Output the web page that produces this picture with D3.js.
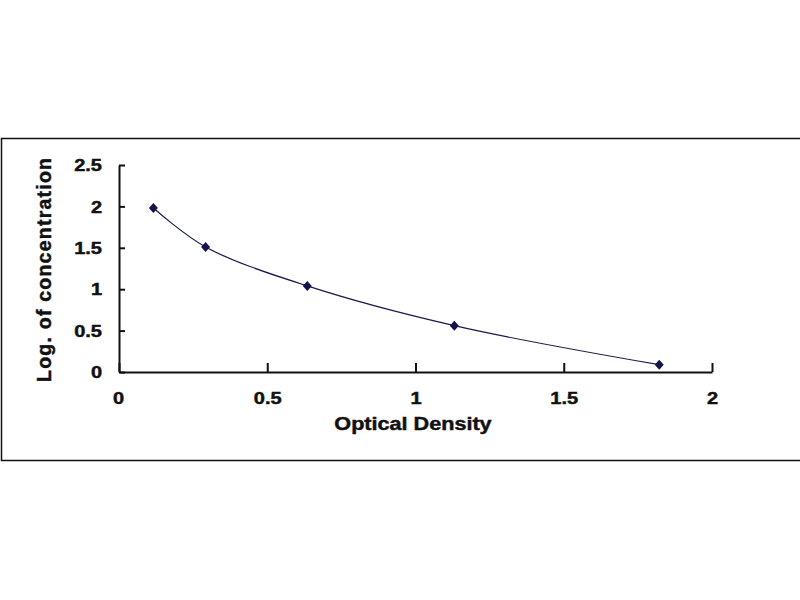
<!DOCTYPE html>
<html>
<head>
<meta charset="utf-8">
<script src="https://cdn.jsdelivr.net/npm/d3@7"></script>
<style>
  body { margin: 0; background: #fff; }
  text { font-family: "Liberation Sans", Arial, sans-serif; font-weight: bold; fill: #111; stroke: #111; stroke-width: 0.45px; }
</style>
</head>
<body>
<div id="canvas"></div>
<script>
// data
const od = [0.116, 0.292, 0.635, 1.131, 1.822];
const logConc = [1.98, 1.51, 1.04, 0.56, 0.088];
const xTicks = [0, 0.5, 1, 1.5, 2];
const yTicks = [0, 0.5, 1, 1.5, 2, 2.5];

const width = 800;
const height = 600;
const svg = d3.select("#canvas")
    .append("svg")
    .attr("width", width)
    .attr("height", height);

// the original picture is stretched sideways, so widen glyphs a bit
function stretch(sel, k) {
    sel.each(function() {
        const w = this.getComputedTextLength();
        d3.select(this)
            .attr("textLength", w * k)
            .attr("lengthAdjust", "spacingAndGlyphs");
    });
}

// outer chart frame
svg.append("rect")
    .attr("x", 1.5).attr("y", 138.5)
    .attr("width", 800).attr("height", 322)
    .attr("fill", "none")
    .attr("stroke", "#111")
    .attr("stroke-width", 1.5);

const x = d3.scaleLinear().domain([0, 2]).range([119, 712]);
const y = d3.scaleLinear().domain([0, 2.5]).range([372, 165]);

// x axis, ticks point up into the plot
const xAxis = svg.append("g")
    .attr("transform", `translate(0, ${y(0)})`)
    .call(d3.axisBottom(x).tickValues(xTicks).tickSizeInner(-9).tickSizeOuter(0).tickFormat(d3.format("")));
xAxis.select(".domain").attr("stroke", "#111").attr("stroke-width", 2);
xAxis.selectAll(".tick line").attr("stroke", "#111").attr("stroke-width", 2);
xAxis.selectAll(".tick text").attr("y", 31.5).attr("dy", 0).attr("font-size", 16).call(stretch, 1.25);
xAxis.select(".tick text").attr("x", -1); // "0" sits a bit left

// y axis, ticks point right
const yAxis = svg.append("g")
    .attr("transform", `translate(${x(0)}, 0)`)
    .call(d3.axisLeft(y).tickValues(yTicks).tickSizeInner(-6).tickSizeOuter(0).tickFormat(d3.format("")));
yAxis.select(".domain").attr("stroke", "#111").attr("stroke-width", 2);
yAxis.selectAll(".tick line").attr("stroke", "#111").attr("stroke-width", 2);
yAxis.selectAll(".tick text").attr("x", -17).attr("dy", "0.36em").attr("font-size", 16).call(stretch, 1.25);

// axis titles
svg.append("text")
    .attr("x", 413).attr("y", 430)
    .attr("text-anchor", "middle")
    .attr("font-size", 18)
    .text("Optical Density")
    .call(stretch, 1.2);

svg.append("text")
    .attr("transform", "translate(51, 270) rotate(-90)")
    .attr("text-anchor", "middle")
    .attr("font-size", 19.5)
    .attr("textLength", 224)
    .attr("lengthAdjust", "spacing")
    .text("Log. of concentration");

// smoothed curve through the points
const pts = od.map((d, i) => [d, logConc[i]]);
svg.append("path")
    .datum(pts)
    .attr("fill", "none")
    .attr("stroke", "#1a1a4a")
    .attr("stroke-width", 1.2)
    .attr("d", d3.line().x(d => x(d[0])).y(d => y(d[1])).curve(d3.curveCatmullRom.alpha(0.5)));

// diamond markers
svg.selectAll("path.pt")
    .data(pts)
    .enter().append("path")
    .attr("class", "pt")
    .attr("transform", d => `translate(${x(d[0])}, ${y(d[1])})`)
    .attr("d", "M0,-5L4.5,0L0,5L-4.5,0Z")
    .attr("fill", "#14144a");
</script>
</body>
</html>
